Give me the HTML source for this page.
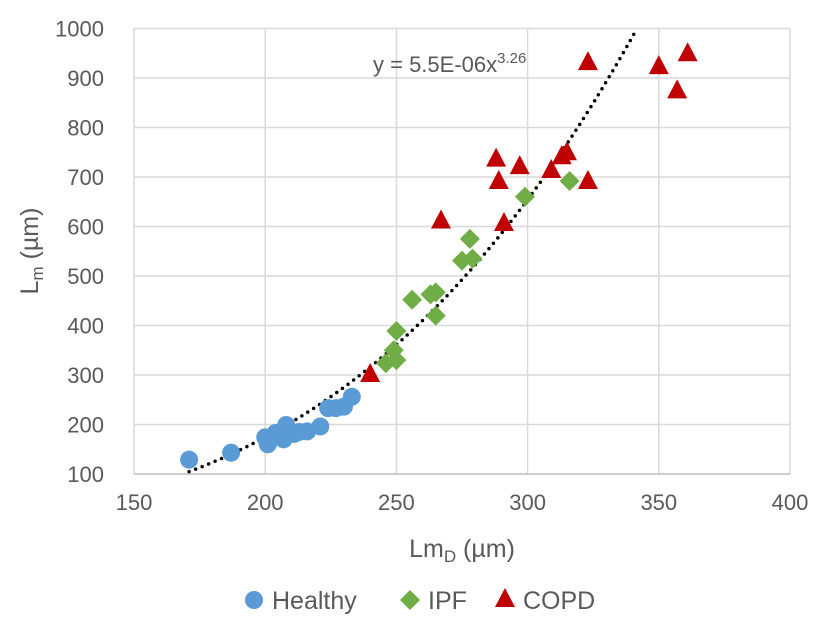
<!DOCTYPE html>
<html><head><meta charset="utf-8"><style>
body{margin:0;background:#fff;}
svg{display:block;font-family:"Liberation Sans",sans-serif;}
</style></head><body>
<svg id="chart" width="831" height="629"></svg>
<script>
const healthyX=[171,187,200,201,204,207,208,211,213,216,221,224,227,230,233];
const healthyY=[129,143,174,160,183,170,199,181,185,186,196,233,233,236,256];
const ipfX=[246,249,250,250,256,263,265,265,275,278,279,299,316];
const ipfY=[324,350,330,389,452,463,467,420,531,575,535,660,692];
const copdX=[240,267,288,289,297,291,309,313,315,323,323,350,357,361];
const copdY=[300,610,735,690,720,605,712,740,748,690,930,922,873,948];
const xTicks=[150,200,250,300,350,400];
const yTicks=[100,200,300,400,500,600,700,800,900,1000];
const trendA=5.5e-6, trendB=3.26;

const NS="http://www.w3.org/2000/svg";
const svg=document.getElementById('chart');
const X0=134,X1=790,Y0=474,Y1=28.5;
const sx=v=>X0+(v-150)/(400-150)*(X1-X0);
const sy=v=>Y0-(v-100)/(1000-100)*(Y0-Y1);
function mk(t,a){const e=document.createElementNS(NS,t);for(const k in a)e.setAttribute(k,a[k]);svg.appendChild(e);return e;}

xTicks.forEach(t=>{
  const l=mk('line',{x1:sx(t),x2:sx(t),y1:Y1,y2:Y0,stroke:'#d9d9d9','stroke-width':1.5});
  
  
  const tx=mk('text',{x:sx(t),y:Y0+36,'text-anchor':'middle','font-size':22,fill:'#595959'});
  tx.textContent=t;
  
  
});
yTicks.forEach(t=>{
  const l=mk('line',{x1:X0,x2:X1,y1:sy(t),y2:sy(t),stroke:t===100?'#bfbfbf':'#d9d9d9','stroke-width':1.5});
  
  
  const tx=mk('text',{x:X0-30,y:sy(t)+8,'text-anchor':'end','font-size':22,fill:'#595959'});
  tx.textContent=t;
  
  
});

let pts=[];
for(let x=171;x<=400;x+=0.5){const y=trendA*Math.pow(x,trendB);if(y>1000)break;pts.push(sx(x)+','+sy(y));}
const tl=mk('polyline',{points:pts.join(' '),fill:'none',stroke:'#000','stroke-width':3.5,'stroke-dasharray':'0 7','stroke-linecap':'round'});



healthyX.forEach((x,i)=>{
  const c=mk('circle',{cx:sx(x),cy:sy(healthyY[i]),r:9,fill:'#5b9bd5'});
  
  
});
ipfX.forEach((x,i)=>{
  const cx=sx(x),cy=sy(ipfY[i]),r=10;
  const p=mk('polygon',{points:`${cx},${cy-r} ${cx+r},${cy} ${cx},${cy+r} ${cx-r},${cy}`,fill:'#70ad47'});
  
  
});
copdX.forEach((x,i)=>{
  const cx=sx(x),cy=sy(copdY[i]);
  const p=mk('polygon',{points:`${cx},${cy-12} ${cx+10},${cy+7} ${cx-10},${cy+7}`,fill:'#c00000'});
  
  
});
</script>
<svg style="position:absolute;left:0;top:0" width="831" height="629" font-family="Liberation Sans,sans-serif">
  <text x="373" y="72" font-size="22" fill="#595959">y = 5.5E-06x<tspan dy="-9" font-size="15">3.26</tspan></text>
  <text x="462" y="557" text-anchor="middle" font-size="25" fill="#595959">Lm<tspan font-size="17" dy="5">D</tspan><tspan dy="-5"> (µm)</tspan></text>
  <text transform="translate(38,251) rotate(-90)" text-anchor="middle" font-size="25" fill="#595959">L<tspan font-size="17" dy="5">m</tspan><tspan dy="-5"> (µm)</tspan></text>
  <g font-size="25" fill="#595959">
    <circle cx="254" cy="600" r="9" fill="#5b9bd5"/>
    <text x="272" y="609">Healthy</text>
    <polygon points="410,590 420,600 410,610 400,600" fill="#70ad47"/>
    <text x="428" y="609">IPF</text>
    <polygon points="505,588 515,607 495,607" fill="#c00000"/>
    <text x="523" y="609">COPD</text>
  </g>
</svg>
</body></html>
